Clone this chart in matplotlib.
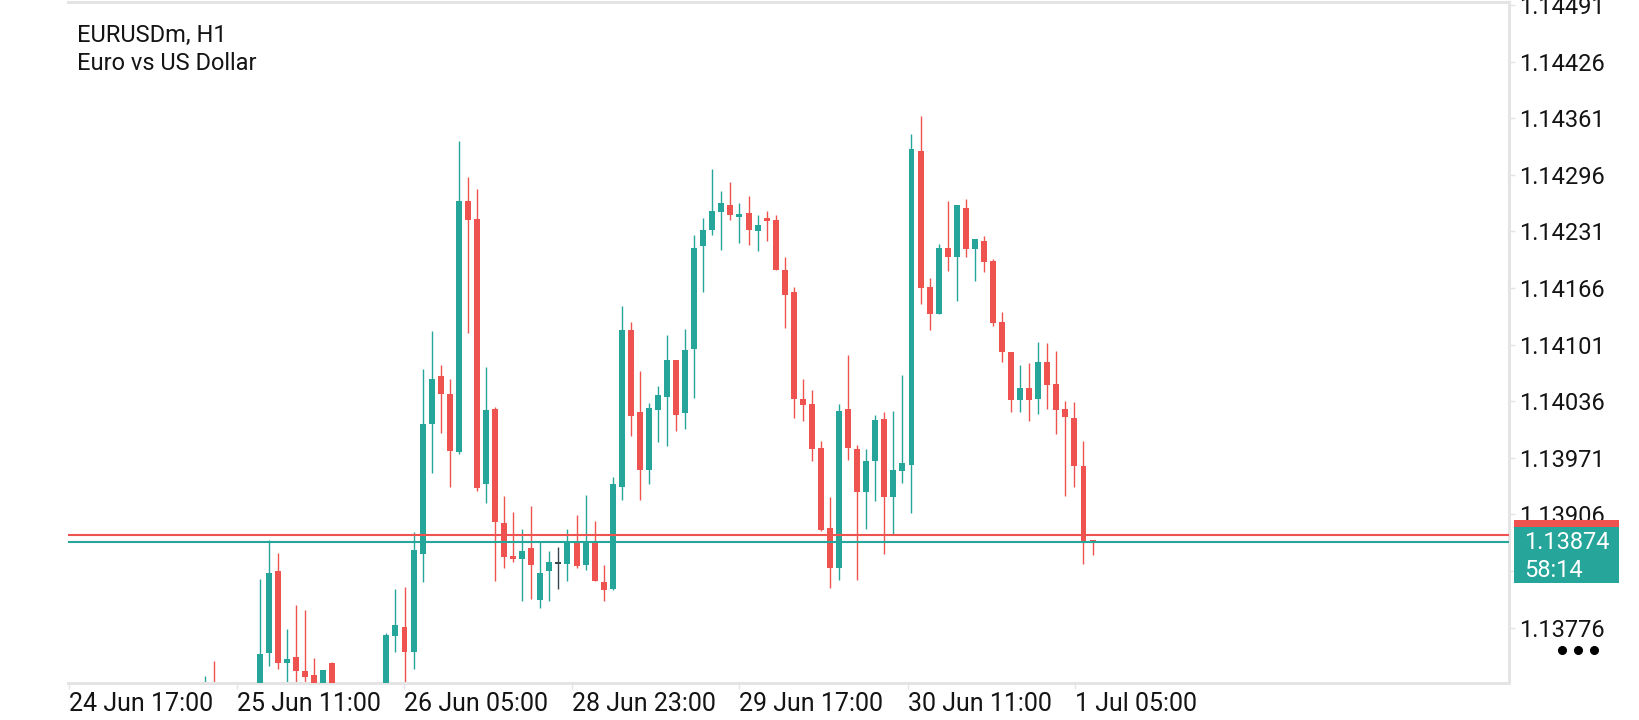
import matplotlib
matplotlib.use("Agg")
import matplotlib.pyplot as plt
from matplotlib.patches import Rectangle
from matplotlib.transforms import blended_transform_factory
import numpy as np

# fuente parecida a la de la app
plt.rcParams['font.family'] = ['Roboto', 'DejaVu Sans']

symbol = "EURUSDm, H1"
description = "Euro vs US Dollar"

# velas H1 (open, high, low, close)
opens = [1.13668, 1.13702, 1.13680, 1.13652, 1.13675, 1.13660, 1.13690, 1.13747, 1.13841, 1.13735,
         1.13742, 1.13726, 1.13722, 1.13695, 1.13735, 1.13690, 1.13668, 1.13684, 1.13672, 1.13693,
         1.13690, 1.13766, 1.13777, 1.13748, 1.13861, 1.14010, 1.14065, 1.14044, 1.13978, 1.14266,
         1.14245, 1.13941, 1.14027, 1.13896, 1.13858, 1.13855, 1.13867, 1.13808, 1.13841, 1.13850,
         1.13849, 1.13874, 1.13848, 1.13874, 1.13828, 1.13820, 1.13938, 1.14118, 1.14024, 1.13957,
         1.14026, 1.14041, 1.14083, 1.14022, 1.14096, 1.14214, 1.14233, 1.14253, 1.14261, 1.14248,
         1.14252, 1.14231, 1.14246, 1.14244, 1.14187, 1.14161, 1.14038, 1.14033, 1.13982, 1.13890,
         1.13844, 1.14027, 1.13981, 1.13932, 1.13967, 1.14016, 1.13926, 1.13956, 1.13963, 1.14323,
         1.14167, 1.14136, 1.14212, 1.14201, 1.14258, 1.14211, 1.14220, 1.14197, 1.14127, 1.14092,
         1.14037, 1.14051, 1.14039, 1.14081, 1.14056, 1.14027, 1.14017, 1.13962, 1.13876]
highs = [1.13720, 1.13738, 1.13695, 1.13690, 1.13700, 1.13705, 1.13832, 1.13877, 1.13862, 1.13774,
         1.13802, 1.13796, 1.13741, 1.13727, 1.13736, 1.13705, 1.13700, 1.13708, 1.13702, 1.13710,
         1.13770, 1.13820, 1.13823, 1.13886, 1.14073, 1.14117, 1.14078, 1.14062, 1.14335, 1.14294,
         1.14280, 1.14075, 1.14029, 1.13927, 1.13909, 1.13889, 1.13916, 1.13874, 1.13864, 1.13868,
         1.13889, 1.13905, 1.13928, 1.13898, 1.13848, 1.13949, 1.14145, 1.14127, 1.14071, 1.14034,
         1.14053, 1.14112, 1.14083, 1.14119, 1.14227, 1.14246, 1.14303, 1.14277, 1.14288, 1.14264,
         1.14272, 1.14250, 1.14254, 1.14250, 1.14201, 1.14167, 1.14061, 1.14049, 1.13990, 1.13926,
         1.14033, 1.14089, 1.13986, 1.13981, 1.14020, 1.14024, 1.14025, 1.14066, 1.14343, 1.14363,
         1.14177, 1.14217, 1.14266, 1.14261, 1.14268, 1.14222, 1.14226, 1.14199, 1.14138, 1.14092,
         1.14078, 1.14080, 1.14104, 1.14103, 1.14094, 1.14036, 1.14035, 1.13990, 1.13877]
lows = [1.13660, 1.13671, 1.13640, 1.13630, 1.13645, 1.13650, 1.13682, 1.13732, 1.13728, 1.13700,
        1.13700, 1.13695, 1.13680, 1.13688, 1.13670, 1.13655, 1.13640, 1.13660, 1.13650, 1.13670,
        1.13680, 1.13748, 1.13700, 1.13729, 1.13828, 1.13953, 1.14000, 1.13937, 1.13975, 1.14114,
        1.13933, 1.13919, 1.13829, 1.13844, 1.13851, 1.13806, 1.13809, 1.13799, 1.13807, 1.13820,
        1.13829, 1.13844, 1.13842, 1.13829, 1.13806, 1.13819, 1.13923, 1.13996, 1.13923, 1.13941,
        1.13989, 1.13984, 1.14002, 1.14004, 1.14040, 1.14161, 1.14227, 1.14210, 1.14244, 1.14218,
        1.14215, 1.14208, 1.14220, 1.14187, 1.14120, 1.14017, 1.14013, 1.13967, 1.13887, 1.13821,
        1.13831, 1.13968, 1.13831, 1.13889, 1.13921, 1.13860, 1.13882, 1.13942, 1.13908, 1.14148,
        1.14118, 1.14136, 1.14186, 1.14151, 1.14201, 1.14174, 1.14184, 1.14122, 1.14081, 1.14023,
        1.14023, 1.14013, 1.14021, 1.14027, 1.13998, 1.13927, 1.13937, 1.13849, 1.13859]
closes = [1.13702, 1.13680, 1.13652, 1.13675, 1.13660, 1.13690, 1.13746, 1.13839, 1.13735, 1.13740,
          1.13726, 1.13719, 1.13700, 1.13727, 1.13690, 1.13668, 1.13684, 1.13672, 1.13693, 1.13688,
          1.13768, 1.13779, 1.13748, 1.13865, 1.14010, 1.14062, 1.14044, 1.13979, 1.14266, 1.14244,
          1.13936, 1.14026, 1.13897, 1.13857, 1.13855, 1.13864, 1.13848, 1.13839, 1.13851, 1.13850,
          1.13875, 1.13847, 1.13874, 1.13829, 1.13819, 1.13941, 1.14118, 1.14019, 1.13957, 1.14028,
          1.14043, 1.14083, 1.14020, 1.14095, 1.14212, 1.14232, 1.14254, 1.14264, 1.14250, 1.14251,
          1.14233, 1.14238, 1.14243, 1.14187, 1.14158, 1.14039, 1.14032, 1.13981, 1.13888, 1.13844,
          1.14025, 1.13982, 1.13932, 1.13967, 1.14014, 1.13926, 1.13957, 1.13965, 1.14326, 1.14166,
          1.14136, 1.14212, 1.14201, 1.14261, 1.14211, 1.14222, 1.14196, 1.14126, 1.14092, 1.14037,
          1.14051, 1.14037, 1.14081, 1.14055, 1.14026, 1.14018, 1.13962, 1.13875, 1.13874]

bid = 1.13874
ask = 1.13882
timer = "58:14"

price_ticks = [1.14491, 1.14426, 1.14361, 1.14296, 1.14231, 1.14166,
               1.14101, 1.14036, 1.13971, 1.13906, 1.13841, 1.13776]
time_labels = ["24 Jun 17:00", "25 Jun 11:00", "26 Jun 05:00", "28 Jun 23:00",
               "29 Jun 17:00", "30 Jun 11:00", "1 Jul 05:00"]
time_ticks = [-15.05, 3.47, 21.99, 40.5, 59.0, 77.56, 96.08]

UP = "#26a69a"
DOWN = "#ef5350"
DOJI = "#37474f"
FRAME = "#e4e4e4"
TEXT = "#141414"

fig = plt.figure(figsize=(16.4, 7.2), dpi=100)
ax = fig.add_axes([68 / 1640, 1 - 682.7 / 720, 1441 / 1640, 680.7 / 720])

o = np.array(opens)
h = np.array(highs)
l = np.array(lows)
c = np.array(closes)
idx = np.arange(len(o))
colors = np.where(c > o, UP, np.where(c < o, DOWN, DOJI))

# mechas
ax.vlines(idx, l, h, colors=colors, linewidth=1.0, zorder=2)
# cuerpos (alto minimo para que los doji se vean)
min_h = 0.000016
body_h = np.maximum(np.abs(c - o), min_h)
body_lo = (o + c) / 2 - body_h / 2
ax.bar(idx, body_h, bottom=body_lo, width=0.66, color=colors, linewidth=0, zorder=3)

# lineas de precio actual
ax.axhline(ask, color=DOWN, linewidth=1.5, zorder=4)
ax.axhline(bid, color=UP, linewidth=1.5, zorder=4)

ax.set_xlim(-15.17, 144.0)
ax.set_ylim(1.137127, 1.144944)

for side in ['top', 'right', 'bottom']:
    ax.spines[side].set_color(FRAME)
    ax.spines[side].set_linewidth(2.2)
ax.spines['left'].set_visible(False)

ax.yaxis.tick_right()
ax.set_yticks(price_ticks, [f"{p:.5f}" for p in price_ticks])
ax.tick_params(axis='y', length=4, width=1, color=FRAME, pad=3,
               labelsize=17, labelcolor=TEXT)
ax.set_xticks(time_ticks, time_labels)
for lbl in ax.get_xticklabels():
    lbl.set_horizontalalignment('left')
ax.tick_params(axis='x', length=4, width=1, color=FRAME, pad=3,
               labelsize=18, labelcolor=TEXT)

# etiquetas de precio a la derecha (ask detras, bid delante)
trans = blended_transform_factory(ax.transAxes, ax.transData)
box_x = 1.0035
box_w = 0.0729
for price, col, z in [(ask, DOWN, 5), (bid, UP, 6)]:
    ax.add_patch(Rectangle((box_x, price - 0.00047), box_w, 0.00064, transform=trans,
                           facecolor=col, edgecolor='none', clip_on=False, zorder=z))
ax.text(1.0105, bid, f"{bid:.5f}", transform=trans, color='white', fontsize=17,
        va='center', ha='left', zorder=7, clip_on=False)
ax.text(1.0105, bid - 0.00032, timer, transform=trans, color='white', fontsize=17,
        va='center', ha='left', zorder=7, clip_on=False)

# menu de tres puntos
ax.plot([1.0368, 1.0479, 1.0590], [0.048, 0.048, 0.048], 'o', color='black', ms=5.5,
        transform=ax.transAxes, clip_on=False)

fig.text(77 / 1640, 1 - 42 / 720, symbol, fontsize=17, color=TEXT, va='baseline')
fig.text(77 / 1640, 1 - 70 / 720, description, fontsize=17, color=TEXT, va='baseline')

fig.savefig("out.png", dpi=100)
